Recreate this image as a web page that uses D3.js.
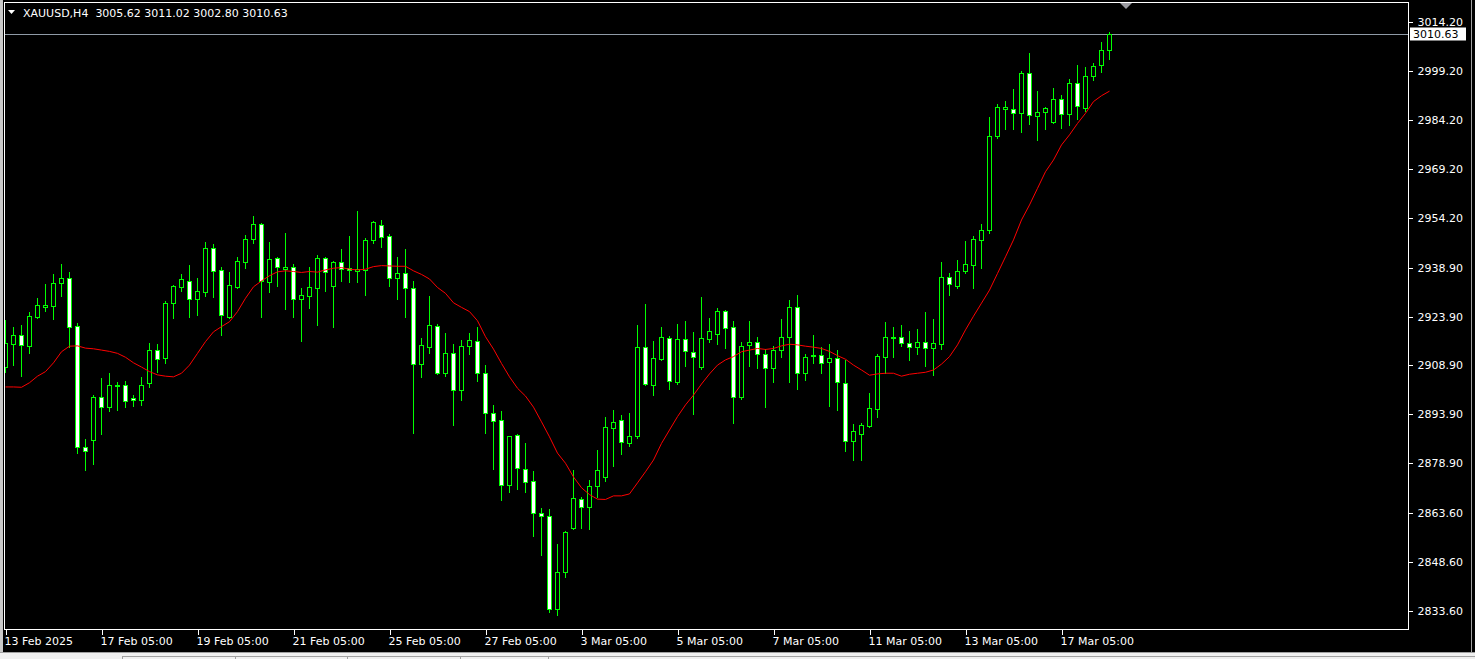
<!DOCTYPE html>
<html>
<head>
<meta charset="utf-8">
<script src="https://cdn.jsdelivr.net/npm/d3@7"></script>
<style>
  html, body { margin: 0; padding: 0; background: #000; overflow: hidden; }
  svg { display: block; }
  text { font-family: "DejaVu Sans", sans-serif; font-size: 11px; }
</style>
</head>
<body>
<svg id="chart" width="1475" height="659"></svg>
<script>
// ---------- DATA (XAUUSD H4) ----------
const symbolTitle = "XAUUSD,H4";
const lastOHLC = [3005.62, 3011.02, 3002.80, 3010.63];

const open = [
2908.4,2915.5,2918.2,2914.8,2923.7,2926.8,2927.1,2934.2,2935.7,2921.0,
2883.9,2886.0,2899.2,2896.1,2902.6,2902.9,2898.9,2898.3,2903.5,2913.6,
2911.2,2928.0,2932.9,2934.8,2929.3,2931.4,2944.9,2938.2,2923.7,2932.9,
2940.6,2947.7,2952.3,2934.5,2941.8,2938.5,2939.1,2929.3,2930.2,2932.6,
2941.8,2933.2,2940.6,2938.8,2937.8,2938.2,2947.4,2952.0,2948.6,2935.7,
2937.2,2932.6,2909.3,2914.5,2921.0,2906.6,2912.7,2901.4,2914.8,2916.4,
2906.6,2894.3,2892.2,2872.2,2887.6,2877.1,2873.4,2863.6,2862.7,2834.2,
2845.5,2859.0,2867.9,2865.5,2871.9,2874.7,2889.7,2892.2,2885.1,2887.2,
2914.5,2902.9,2910.9,2917.3,2903.8,2917.0,2913.0,2908.4,2917.0,2918.5,
2925.6,2920.7,2899.2,2915.2,2916.1,2912.4,2908.1,2913.6,2917.6,2926.8,
2906.6,2911.8,2912.1,2909.9,2911.2,2903.5,2885.7,2887.9,2890.3,2895.5,
2911.5,2917.3,2917.6,2915.8,2914.5,2916.1,2914.2,2915.5,2936.0,2933.2,
2937.8,2939.7,2947.4,2950.4,2979.2,2987.5,2987.5,2986.3,2998.6,2985.4,
2986.6,2983.5,2990.6,2986.0,2995.5,2987.8,2997.6,3001.0,3005.62];

const high = [
2922.8,2920.7,2921.3,2925.3,2929.6,2933.9,2936.9,2940.0,2937.5,2921.9,
2886.3,2899.8,2905.0,2906.6,2903.8,2904.1,2899.8,2905.3,2915.8,2915.5,
2928.6,2933.6,2936.9,2939.7,2935.7,2946.7,2946.1,2939.1,2937.5,2942.1,
2948.9,2954.7,2952.6,2946.7,2942.1,2949.5,2940.0,2932.6,2939.1,2942.8,
2942.1,2940.9,2944.6,2948.6,2956.2,2948.0,2953.2,2953.5,2949.2,2942.1,
2944.6,2934.8,2917.3,2930.2,2921.6,2918.8,2915.5,2916.7,2918.8,2920.7,
2909.0,2896.8,2894.9,2887.2,2887.9,2885.1,2876.5,2865.2,2864.9,2854.1,
2858.0,2876.8,2868.5,2873.8,2883.0,2893.1,2895.2,2893.7,2894.3,2921.3,
2927.7,2916.4,2920.7,2917.9,2921.6,2922.5,2919.1,2929.9,2923.4,2926.5,
2925.9,2922.5,2916.1,2922.5,2917.6,2913.9,2914.8,2923.1,2929.0,2930.5,
2912.4,2918.2,2914.5,2915.5,2913.6,2910.6,2890.9,2891.2,2900.4,2912.4,
2922.2,2920.7,2921.3,2919.5,2920.1,2925.3,2923.1,2940.6,2937.2,2941.2,
2947.0,2948.6,2952.3,2985.1,2989.1,2990.0,2993.7,2999.2,3004.7,2993.0,
2988.1,2994.0,2991.8,2996.7,3001.0,3000.4,3001.6,3008.1,3011.02];

const low = [
2906.9,2909.0,2905.6,2912.7,2923.4,2925.6,2923.1,2930.2,2914.5,2882.0,
2876.8,2878.7,2887.9,2894.9,2895.2,2896.1,2896.4,2896.8,2902.3,2906.9,
2909.6,2923.4,2931.7,2923.7,2924.3,2930.2,2929.9,2918.2,2923.4,2932.6,
2938.8,2946.4,2923.7,2931.4,2933.2,2926.2,2923.7,2916.4,2926.5,2921.3,
2931.7,2920.7,2934.8,2934.5,2934.5,2930.5,2946.4,2945.2,2933.2,2929.3,
2923.7,2888.2,2905.3,2912.7,2906.2,2905.6,2890.6,2898.3,2912.4,2904.1,
2888.2,2877.1,2867.6,2870.1,2871.0,2870.1,2856.6,2850.8,2833.3,2832.4,
2844.0,2858.7,2859.0,2858.7,2868.5,2873.4,2878.0,2881.7,2884.2,2886.6,
2902.9,2899.8,2910.6,2901.7,2903.2,2908.7,2894.0,2907.8,2916.1,2915.5,
2914.2,2891.2,2898.6,2908.7,2908.1,2896.1,2903.8,2911.5,2903.8,2901.7,
2904.4,2909.6,2906.6,2896.4,2895.2,2882.6,2879.9,2879.9,2890.0,2893.1,
2906.6,2911.5,2914.8,2910.6,2912.4,2908.7,2905.9,2913.9,2930.5,2932.6,
2937.2,2932.6,2938.8,2949.5,2978.6,2981.4,2981.4,2980.5,2983.0,2978.0,
2981.4,2983.2,2981.7,2982.6,2984.5,2986.9,2996.4,2998.9,3002.80];

const close = [
2915.8,2918.2,2915.2,2924.0,2927.4,2927.4,2934.2,2935.7,2920.7,2883.9,
2882.6,2899.2,2896.1,2902.9,2902.9,2898.0,2898.3,2902.9,2913.6,2910.9,
2928.0,2933.2,2935.4,2929.3,2931.7,2944.9,2937.8,2924.3,2933.6,2940.9,
2947.7,2952.3,2934.8,2941.5,2939.1,2939.1,2929.3,2930.5,2932.9,2941.8,
2937.5,2940.6,2938.5,2938.2,2938.5,2947.4,2952.9,2948.3,2935.7,2937.2,
2932.6,2909.3,2915.2,2921.3,2906.6,2912.7,2901.4,2914.8,2916.7,2906.6,
2894.3,2891.9,2872.2,2887.2,2877.4,2873.1,2863.6,2862.7,2834.2,2845.5,
2857.8,2868.2,2865.5,2871.9,2876.8,2890.0,2891.5,2885.4,2887.2,2914.5,
2903.2,2911.2,2917.6,2904.1,2917.0,2913.3,2911.5,2917.3,2919.4,2925.6,
2920.4,2899.2,2914.8,2916.1,2912.4,2908.1,2913.6,2917.6,2926.8,2906.6,
2911.5,2912.1,2909.6,2911.2,2903.8,2885.7,2888.8,2890.6,2895.8,2911.8,
2917.6,2917.6,2915.8,2914.5,2916.1,2914.2,2915.8,2936.0,2933.9,2937.8,
2940.0,2947.7,2950.4,2979.2,2988.1,2988.1,2986.3,2998.6,2985.7,2986.6,
2987.8,2990.6,2986.0,2995.5,2988.4,2997.6,3000.7,3005.6,3010.63];

const movingAverage = [
2902.3,2902.3,2902.2,2903.6,2905.6,2907.0,2909.7,2913.1,2914.8,2914.9,
2914.2,2914.0,2913.6,2913.2,2912.6,2911.4,2909.7,2908.4,2907.0,2906.0,
2905.6,2905.4,2906.5,2909.0,2912.6,2916.2,2919.2,2920.8,2922.3,2925.4,
2929.5,2933.0,2934.8,2936.4,2937.6,2937.9,2937.7,2937.4,2937.7,2937.5,
2938.2,2938.7,2938.9,2938.4,2938.2,2938.4,2939.2,2939.5,2939.4,2939.3,
2939.3,2937.9,2936.8,2935.4,2932.8,2931.0,2928.1,2926.7,2925.4,2922.6,
2917.7,2913.9,2909.5,2905.4,2901.9,2899.5,2896.1,2891.6,2887.0,2882.0,
2878.9,2874.7,2871.4,2869.3,2867.9,2867.8,2868.9,2868.9,2869.5,2872.9,
2876.3,2879.9,2885.0,2889.1,2893.2,2896.8,2899.8,2903.2,2906.3,2909.0,
2910.6,2911.6,2913.1,2913.6,2914.1,2913.8,2914.1,2914.9,2915.4,2915.2,
2914.8,2914.5,2914.1,2913.2,2911.9,2910.8,2909.0,2907.5,2905.9,2906.3,
2906.5,2906.5,2905.6,2906.2,2906.5,2906.8,2907.5,2909.3,2911.6,2915.2,
2919.8,2924.0,2928.0,2932.0,2937.1,2942.2,2947.4,2953.5,2958.1,2963.2,
2968.3,2971.9,2976.5,2979.6,2983.1,2986.2,2989.8,2991.6,2993.0];

const timeTickBars = [0,12,24,36,48,60,72,84,96,108,120,132];
const timeTickLabels = ["13 Feb 2025","17 Feb 05:00","19 Feb 05:00","21 Feb 05:00","25 Feb 05:00",
  "27 Feb 05:00","3 Mar 05:00","5 Mar 05:00","7 Mar 05:00","11 Mar 05:00","13 Mar 05:00","17 Mar 05:00"];
const priceTicks = [3014.20,2999.20,2984.20,2969.20,2954.20,2938.90,2923.90,2908.90,
  2893.90,2878.90,2863.60,2848.60,2833.60];
const bidPrice = 3010.63;

// ---------- LAYOUT ----------
const W = 1475, H = 659;
const frame = {left: 4.5, top: 2.5, right: 1408.5, bottom: 629.5};
const svg = d3.select("#chart");
const green = "#00ff00";

svg.append("rect").attr("width", W).attr("height", H).attr("fill", "#000");

const n = close.length;
const x = d3.scaleLinear().domain([0, n - 1]).range([5.5, 5.5 + 8 * (n - 1)]);
const y = d3.scaleLinear().domain([2833.6, 3014.2]).range([611, 22]);
const py = v => Math.round(y(v)) + 0.5;

svg.append("defs").append("clipPath").attr("id", "plotClip")
  .append("rect").attr("x", 5).attr("y", 3).attr("width", 1403).attr("height", 626);

const plot = svg.append("g").attr("clip-path", "url(#plotClip)");

// bid line
plot.append("line")
  .attr("x1", 5).attr("x2", 1408).attr("y1", py(bidPrice)).attr("y2", py(bidPrice))
  .attr("stroke", "#8f9aa6").attr("stroke-width", 1).attr("shape-rendering", "crispEdges");

// candles
const idx = d3.range(n);
const cg = plot.append("g").attr("shape-rendering", "crispEdges");
cg.selectAll("line.wick").data(idx).join("line").attr("class", "wick")
  .attr("x1", i => x(i)).attr("x2", i => x(i))
  .attr("y1", i => py(high[i]) - 0.5).attr("y2", i => py(low[i]) + 0.5)
  .attr("stroke", green).attr("stroke-width", 1);

cg.selectAll("rect.body").data(idx).join("rect").attr("class", "body")
  .attr("x", i => x(i) - 2)
  .attr("y", i => py(Math.max(open[i], close[i])))
  .attr("width", 4)
  .attr("height", i => Math.max(0, py(Math.min(open[i], close[i])) - py(Math.max(open[i], close[i]))))
  .attr("fill", i => close[i] >= open[i] ? "#000" : "#fff")
  .attr("stroke", green).attr("stroke-width", 1);

// moving average
plot.append("path")
  .datum(idx)
  .attr("d", d3.line().x(i => x(i)).y(i => y(movingAverage[i])))
  .attr("fill", "none").attr("stroke", "#ff0000").attr("stroke-width", 1);

// frame
svg.append("rect")
  .attr("x", frame.left).attr("y", frame.top)
  .attr("width", frame.right - frame.left).attr("height", frame.bottom - frame.top)
  .attr("fill", "none").attr("stroke", "#fff").attr("shape-rendering", "crispEdges");

// price axis
const yAxis = d3.axisRight(y).tickValues(priceTicks).tickFormat(d3.format(".2f"))
  .tickSize(4).tickPadding(5);
const yg = svg.append("g").attr("transform", `translate(${frame.right},0)`).call(yAxis);
yg.select(".domain").remove();
yg.selectAll("line").attr("stroke", "#fff").attr("shape-rendering", "crispEdges");
yg.selectAll("text").attr("fill", "#fff").style("font-family", "DejaVu Sans").style("font-size", "11px");

// time axis
const xAxis = d3.axisBottom(x).tickValues(timeTickBars)
  .tickFormat((d, k) => timeTickLabels[k]).tickSize(5).tickPadding(3);
const xg = svg.append("g").attr("transform", `translate(0,${frame.bottom})`).call(xAxis);
xg.select(".domain").remove();
xg.selectAll("line").attr("stroke", "#fff").attr("shape-rendering", "crispEdges");
xg.selectAll("text").attr("fill", "#fff").attr("text-anchor", "start").attr("dx", "-1.5")
  .style("font-family", "DejaVu Sans").style("font-size", "11px");

// bid price tag
const tagY = py(bidPrice);
svg.append("rect").attr("x", 1410).attr("y", tagY - 7).attr("width", 56).attr("height", 13)
  .attr("fill", "#fff");
svg.append("text").attr("x", 1413).attr("y", tagY).attr("dy", "0.36em")
  .attr("fill", "#000").text(d3.format(".2f")(bidPrice));

// title
svg.append("path").attr("d", "M8,10 L15,10 L11.5,14 Z").attr("fill", "#fff");
svg.append("text").attr("x", 23).attr("y", 13).attr("dy", "0.36em").attr("fill", "#fff")
  .style("white-space", "pre")
  .text(symbolTitle + "  " + lastOHLC.map(d3.format(".2f")).join(" "));

// chart shift marker
svg.append("path").attr("d", "M1120,3 L1132,3 L1126,9 Z").attr("fill", "#9a9aa0");

// window edges
svg.append("rect").attr("x", 0).attr("y", 0).attr("width", 3).attr("height", 652).attr("fill", "#c8c8c8");
svg.append("line").attr("x1", 1471.5).attr("x2", 1471.5).attr("y1", 0).attr("y2", 652)
  .attr("stroke", "#a0a0a0");
svg.append("rect").attr("x", 0).attr("y", 652).attr("width", W).attr("height", 7).attr("fill", "#f0f0f0");
svg.append("line").attr("x1", 0).attr("x2", W).attr("y1", 652.5).attr("y2", 652.5).attr("stroke", "#a0a0a0");
svg.append("line").attr("x1", 122).attr("x2", W).attr("y1", 656.5).attr("y2", 656.5).attr("stroke", "#a0a0a0");
svg.append("line").attr("x1", 122.5).attr("x2", 122.5).attr("y1", 656).attr("y2", 659).attr("stroke", "#a0a0a0");
[235, 347, 460, 548].forEach(v => svg.append("line").attr("x1", v + 0.5).attr("x2", v + 0.5)
  .attr("y1", 657).attr("y2", 659).attr("stroke", "#a0a0a0"));
</script>
</body>
</html>
